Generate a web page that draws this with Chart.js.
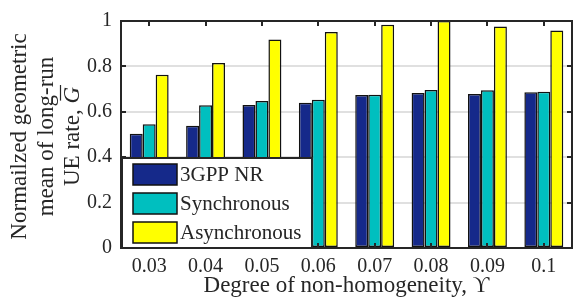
<!DOCTYPE html>
<html>
<head>
<meta charset="utf-8">
<script src="https://cdn.jsdelivr.net/npm/chart.js@4.4.0/dist/chart.umd.min.js"></script>
<style>
  html, body { margin: 0; padding: 0; background: #fff; }
  #wrap { width: 574px; height: 308px; }
</style>
</head>
<body>
<div id="wrap"><canvas id="myChart" width="574" height="308"></canvas></div>
<script>
// ---------------------- data ---------------------
var categories = ["0.03", "0.04", "0.05", "0.06", "0.07", "0.08", "0.09", "0.1"];
var nrValues    = [0.503, 0.538, 0.630, 0.640, 0.674, 0.683, 0.678, 0.686];
var syncValues  = [0.545, 0.629, 0.648, 0.653, 0.675, 0.696, 0.695, 0.688];
var asyncValues = [0.763, 0.815, 0.919, 0.951, 0.983, 1.000, 0.976, 0.958];
var seriesNames = ["3GPP NR", "Synchronous", "Asynchronous"];
var barColors = ["#15298a", "#00bfbf", "#ffff00"];
var yTitleLines = ["Normailzed geometric", "mean of long-run", "UE rate, "];
var yTitleSymbol = "G";
var xTitle = "Degree of non-homogeneity, \u03D2";

var serif = "'Liberation Serif', 'DejaVu Serif', serif";
var ink = "#262626";

// box round the axes, with inward ticks
var frame = {
  id: 'frame',
  afterDatasetsDraw: function(chart) {
    var ctx = chart.ctx, a = chart.chartArea;
    var x = chart.scales.x, y = chart.scales.y;
    ctx.save();
    ctx.strokeStyle = ink;
    ctx.lineWidth = 2;
    ctx.strokeRect(a.left, a.top, a.right - a.left, a.bottom - a.top);
    ctx.beginPath();
    for (var i = 0; i < x.ticks.length; i++) {
      var px = Math.round(x.getPixelForTick(i));
      ctx.moveTo(px, a.top); ctx.lineTo(px, a.top + 5);
      ctx.moveTo(px, a.bottom); ctx.lineTo(px, a.bottom - 5);
    }
    for (var j = 0; j < y.ticks.length; j++) {
      var py = Math.round(y.getPixelForValue(y.ticks[j].value));
      ctx.moveTo(a.left, py); ctx.lineTo(a.left + 5, py);
      ctx.moveTo(a.right, py); ctx.lineTo(a.right - 5, py);
    }
    ctx.stroke();
    ctx.restore();
  }
};

// legend box in the lower left corner, drawn over the bars
var legendBox = {
  id: 'legendBox',
  afterDatasetsDraw: function(chart) {
    var ctx = chart.ctx, a = chart.chartArea;
    var bx = a.left + 1, by = a.bottom - 90, bw = 190, bh = 90;
    ctx.save();
    ctx.fillStyle = "#fff";
    ctx.fillRect(bx, by, bw, bh);
    ctx.strokeStyle = ink;
    ctx.lineWidth = 2;
    ctx.strokeRect(bx, by, bw, bh);
    ctx.font = "21px " + serif;
    ctx.textBaseline = "middle";
    ctx.textAlign = "left";
    chart.data.datasets.forEach(function(ds, i) {
      var sy = by + 6 + i * 29;
      ctx.fillStyle = ds.backgroundColor;
      ctx.fillRect(bx + 11, sy, 44, 21);
      ctx.lineWidth = 1.5;
      ctx.strokeStyle = "#111";
      ctx.strokeRect(bx + 11, sy, 44, 21);
      ctx.fillStyle = ink;
      ctx.fillText(ds.label, bx + 58, sy + 11);
    });
    ctx.restore();
  }
};

// three line y title with an italic G under a bar
var yTitle = {
  id: 'yTitle',
  afterDraw: function(chart) {
    var ctx = chart.ctx;
    var cy = 136.5;
    var cols = [20, 46.5, 72.5];
    ctx.save();
    ctx.translate(0, cy);
    ctx.rotate(-Math.PI / 2);
    ctx.fillStyle = ink;
    ctx.textBaseline = "middle";
    ctx.font = "23px " + serif;
    ctx.textAlign = "center";
    ctx.fillText(yTitleLines[0], 0, cols[0]);
    ctx.fillText(yTitleLines[1], 0, cols[1]);
    var w1 = ctx.measureText(yTitleLines[2]).width;
    ctx.font = "italic 23px " + serif;
    var w2 = ctx.measureText(yTitleSymbol).width;
    var start = -(w1 + w2) / 2;
    ctx.textAlign = "left";
    ctx.font = "23px " + serif;
    ctx.fillText(yTitleLines[2], start, cols[2]);
    ctx.font = "italic 23px " + serif;
    ctx.fillText(yTitleSymbol, start + w1, cols[2]);
    ctx.strokeStyle = ink;
    ctx.lineWidth = 1.2;
    ctx.beginPath();
    ctx.moveTo(start + w1 + 3, cols[2] - 12);
    ctx.lineTo(start + w1 + w2 + 2, cols[2] - 12);
    ctx.stroke();
    ctx.restore();
  }
};

new Chart("myChart", {
  type: "bar",
  data: {
    labels: categories,
    datasets: [
      { label: seriesNames[0], data: nrValues, backgroundColor: barColors[0] },
      { label: seriesNames[1], data: syncValues, backgroundColor: barColors[1] },
      { label: seriesNames[2], data: asyncValues, backgroundColor: barColors[2] }
    ]
  },
  options: {
    responsive: false,
    animation: false,
    devicePixelRatio: 1,
    layout: { padding: { top: 10, right: 2, left: 0, bottom: 0 }, autoPadding: false },
    datasets: {
      bar: {
        categoryPercentage: 0.69,
        barPercentage: 1,
        borderColor: "#111",
        borderWidth: 1.5,
        borderSkipped: false
      }
    },
    plugins: {
      legend: { display: false },
      tooltip: { enabled: false }
    },
    scales: {
      x: {
        grid: { display: false, drawTicks: false },
        border: { display: false },
        ticks: { font: { family: serif, size: 20 }, color: ink, padding: 7 },
        title: {
          display: true,
          text: xTitle,
          font: { family: serif, size: 23 },
          color: ink,
          padding: { top: 0, bottom: 8 }
        },
        afterFit: function(s) { s.height = 60; }
      },
      y: {
        min: 0,
        max: 1,
        ticks: {
          stepSize: 0.2,
          font: { family: serif, size: 20 },
          color: ink,
          padding: 9,
          callback: function(v) { return String(Number(v.toFixed(1))); }
        },
        grid: {
          drawTicks: false,
          lineWidth: 2,
          color: function(c) {
            var v = c.tick ? c.tick.value : null;
            return (v === 0 || v === 1) ? "rgba(0,0,0,0)" : "#e0e0e0";
          }
        },
        border: { display: false },
        afterFit: function(s) { s.width = 121; }
      }
    }
  },
  plugins: [frame, legendBox, yTitle]
});
</script>
</body>
</html>
